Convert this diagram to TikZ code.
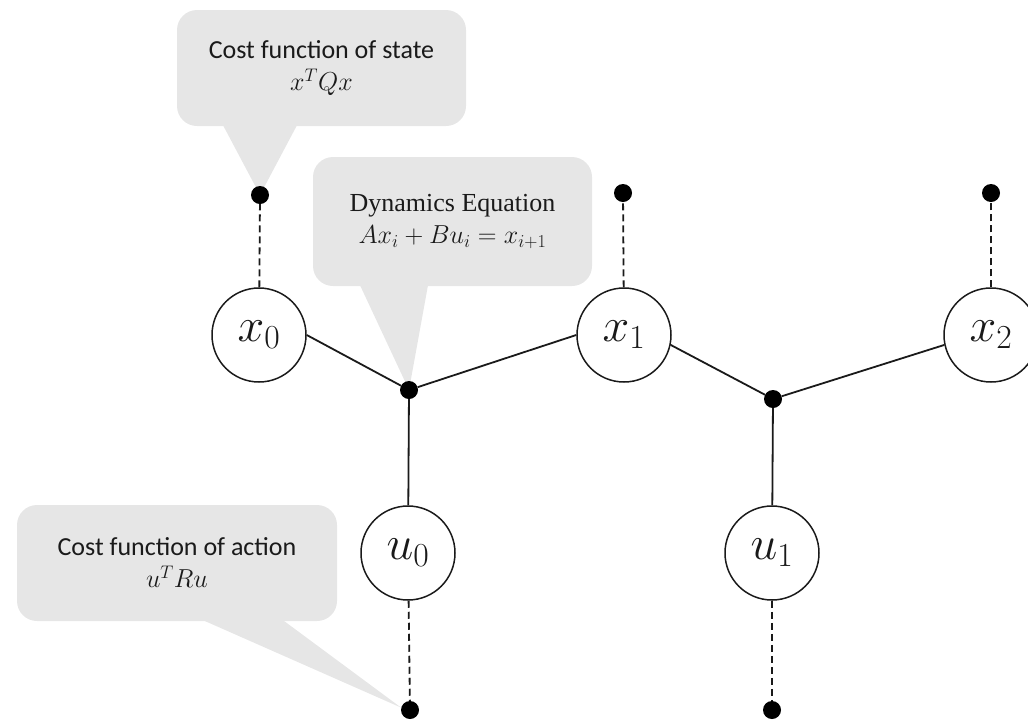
\RequirePackage{fix-cm}
\documentclass[tikz,border=0pt]{standalone}
\usepackage{fontspec}
\setmainfont{Carlito}
\newfontfamily\eqfont{Liberation Serif}
\usetikzlibrary{calc,backgrounds}
\definecolor{callgray}{HTML}{E6E6E6}
\definecolor{ink}{HTML}{1A1A1A}
\begin{document}
\begin{tikzpicture}[x=1pt,y=-1pt,
  var/.style={circle,draw=ink,line width=1.5pt,minimum size=94pt,inner sep=0pt,fill=white,
    text=ink,font=\fontsize{48}{48}\selectfont},
  dotnode/.style={circle,fill=black,minimum size=18pt,inner sep=0pt},
  edge/.style={draw=ink,line width=1.8pt},
  obs/.style={draw=ink,line width=1.8pt,dash pattern=on 7pt off 4pt},
  callbox/.style={fill=callgray,rounded corners=20pt,inner sep=0pt,align=center,
    text=ink,font=\fontsize{26}{32}\selectfont},
]
\useasboundingbox (0,0) rectangle (1028,721);

% variable nodes
\node[var] (x0) at (259,335) {$x_0$};
\node[var] (x1) at (624,335) {$x_1$};
\node[var] (x2) at (991,335) {$x_2$};
\node[var] (u0) at (408,553) {$u_0$};
\node[var] (u1) at (772,553) {$u_1$};

% factor and observation dots
\node[dotnode] (t0) at (260,195) {};
\node[dotnode] (t1) at (623,193) {};
\node[dotnode] (t2) at (991,193) {};
\node[dotnode] (j0) at (409,390) {};
\node[dotnode] (j1) at (773,399) {};
\node[dotnode] (b0) at (410,710) {};
\node[dotnode] (b1) at (772,710) {};

% dynamics factors
\draw[edge] (x0.east) -- (j0);
\draw[edge] (j0) -- (x1.west);
\draw[edge] (j0) -- (u0);
\draw[edge] (x1.-12) -- (j1);
\draw[edge] (j1) -- (x2.192);
\draw[edge] (j1) -- (u1);

% cost factors
\draw[obs] (x0) -- (t0);
\draw[obs] (x1) -- (t1);
\draw[obs] (x2) -- (t2);
\draw[obs] (u0) -- (b0);
\draw[obs] (u1) -- (b1);

% callouts
\begin{scope}[on background layer]
  \node[callbox,minimum width=289pt,minimum height=116pt] (cs) at (321.5,68)
    {Cost function of state\\$x^TQx$};
  \fill[callgray] ($(cs.south)+(-98.5,-1)$) -- (t0.center) -- ($(cs.south)+(-24.5,-1)$) -- cycle;

  \node[callbox,minimum width=279pt,minimum height=129pt] (cd) at (452.5,221.5)
    {{\eqfont Dynamics Equation}\\$Ax_i+Bu_i=x_{i+1}$};
  \fill[callgray] ($(cd.south)+(-92.5,-1)$) -- (j0.center) -- ($(cd.south)+(-24.5,-1)$) -- cycle;

  \node[callbox,minimum width=320pt,minimum height=116pt] (ca) at (177,563)
    {Cost function of action\\$u^TRu$};
  \fill[callgray] ($(ca.south)+(26,-1)$) -- (b0.165) -- ($(ca.south)+(106,-1)$) -- cycle;
\end{scope}
\end{tikzpicture}
\end{document}
